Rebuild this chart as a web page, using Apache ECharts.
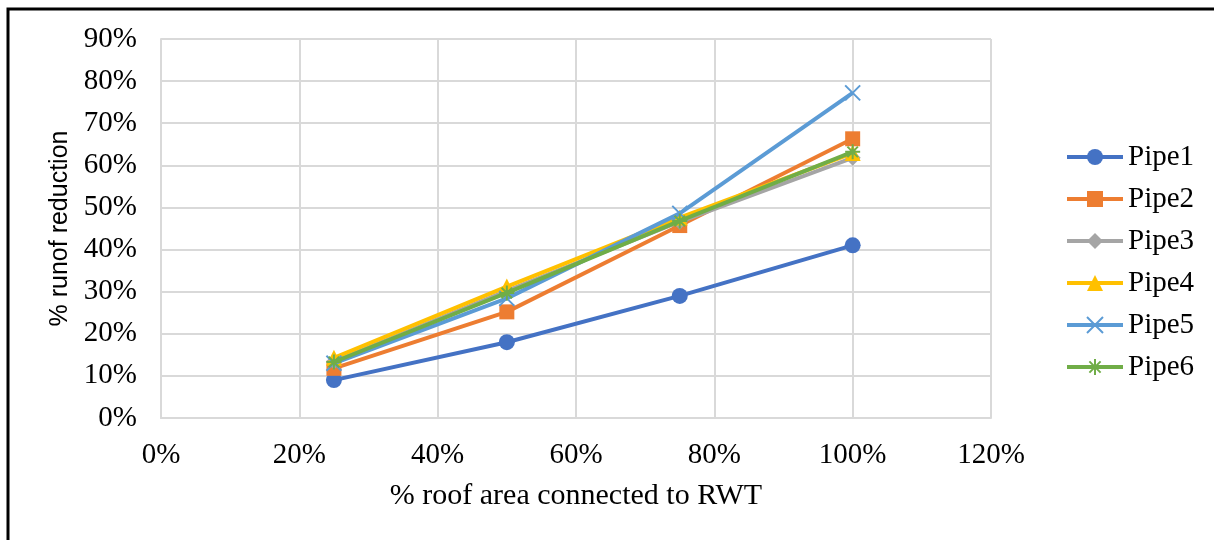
<!DOCTYPE html>
<html>
<head>
<meta charset="utf-8">
<script src="https://cdn.jsdelivr.net/npm/echarts@6/dist/echarts.min.js"></script>
<style>
  html, body { margin: 0; padding: 0; background: #fff; }
  #chart { width: 1214px; height: 540px; }
</style>
</head>
<body>
<div id="chart"></div>
<script>
// Share of roof area connected to the rainwater tank (%)
const roofArea = [25, 50, 75, 100];

// Runoff reduction (%) at each pipe
const pipe1 = [9.0, 18.0, 29.0, 41.0];
const pipe2 = [11.8, 25.2, 45.7, 66.3];
const pipe3 = [13.4, 30.2, 46.6, 61.8];
const pipe4 = [14.3, 31.2, 47.6, 62.9];
const pipe5 = [13.0, 28.4, 48.6, 77.2];
const pipe6 = [13.3, 29.7, 46.8, 63.2];

const seriesNames = ['Pipe1', 'Pipe2', 'Pipe3', 'Pipe4', 'Pipe5', 'Pipe6'];
const seriesValues = [pipe1, pipe2, pipe3, pipe4, pipe5, pipe6];
const colors = ['#4472C4', '#ED7D31', '#A5A5A5', '#FFC000', '#5B9BD5', '#70AD47'];

const crossPath = 'path://M0,0L10,10M10,0L0,10';
const starPath = 'path://M5,0L5,10M0,5L10,5M1.5,1.5L8.5,8.5M8.5,1.5L1.5,8.5';
const symbols = ['circle', 'rect', 'diamond', 'triangle', crossPath, starPath];
const symbolSizes = [16, 15, 16, 16, 15, 15];

const serif = '"Liberation Serif", "DejaVu Serif", serif';

const chart = echarts.init(document.getElementById('chart'), null, { renderer: 'canvas' });

const series = seriesNames.map((name, i) => {
  const stroked = i >= 4;
  return {
    name: name,
    type: 'line',
    data: roofArea.map((x, k) => [x, seriesValues[i][k]]),
    symbol: symbols[i],
    symbolSize: symbolSizes[i],
    showAllSymbol: true,
    lineStyle: { color: colors[i], width: 4 },
    itemStyle: stroked
      ? { color: colors[i], borderColor: colors[i], borderWidth: 2 }
      : { color: colors[i], borderWidth: 0 },
    emphasis: { disabled: true },
    animation: false,
    z: 2 + i
  };
});

chart.setOption({
  backgroundColor: '#ffffff',
  animation: false,
  grid: { left: 161, right: 223, top: 39, bottom: 122, containLabel: false },
  graphic: [{
    type: 'rect',
    shape: { x: 8, y: 9, width: 1260, height: 600 },
    style: { fill: 'none', stroke: '#000', lineWidth: 3 },
    silent: true,
    z: 100
  }],
  xAxis: {
    type: 'value',
    min: 0, max: 120, interval: 20,
    name: '% roof area connected to RWT',
    nameLocation: 'middle',
    nameGap: 63,
    nameTextStyle: { fontFamily: serif, fontSize: 30, color: '#000' },
    axisLine: { show: true, lineStyle: { color: '#D9D9D9', width: 2 } },
    axisTick: { show: false },
    axisLabel: { formatter: '{value}%', fontFamily: serif, fontSize: 29, color: '#000', margin: 23 },
    splitLine: { show: true, lineStyle: { color: '#D9D9D9', width: 2 } }
  },
  yAxis: {
    type: 'value',
    min: 0, max: 90, interval: 10,
    name: '% runof reduction',
    nameLocation: 'middle',
    nameGap: 88,
    nameTextStyle: { fontFamily: '"Liberation Sans", "Open Sans", sans-serif', fontSize: 25, color: '#000' },
    axisLine: { show: true, lineStyle: { color: '#D9D9D9', width: 2 } },
    axisTick: { show: false },
    axisLabel: { formatter: '{value}%', fontFamily: serif, fontSize: 29, color: '#000', margin: 24 },
    splitLine: { show: true, lineStyle: { color: '#D9D9D9', width: 2 } }
  },
  legend: {
    orient: 'vertical',
    left: 1065,
    top: 142,
    padding: 0,
    itemWidth: 56,
    itemHeight: 20,
    itemGap: 12,
    lineStyle: { width: 4 },
    data: seriesNames,
    textStyle: { fontFamily: serif, fontSize: 29, color: '#000', lineHeight: 30 },
    selectedMode: false
  },
  series: series
});
</script>
</body>
</html>
